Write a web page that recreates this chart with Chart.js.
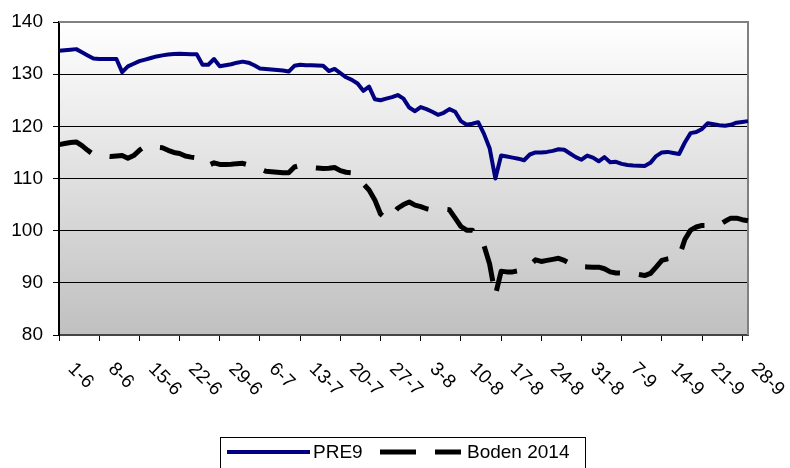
<!DOCTYPE html>
<html>
<head>
<meta charset="utf-8">
<script src="https://cdn.jsdelivr.net/npm/chart.js@4.4.1/dist/chart.umd.min.js"></script>
<style>
  html, body { margin: 0; padding: 0; background: #fff; }
</style>
</head>
<body>
<canvas id="chart" width="790" height="468"></canvas>
<script>
// daily categories, 1 June .. 29 September
const startDay = new Date(2014, 5, 1);
const dayCount = 121;
const labelEvery = 7;
const days = [];
for (let i = 0; i < dayCount; i++) {
  const d = new Date(startDay);
  d.setDate(startDay.getDate() + i);
  days.push(d.getDate() + '-' + (d.getMonth() + 1));
}

const yTicks = [80, 90, 100, 110, 120, 130, 140];

const pre9 = [
  134.5, 134.6, 134.7, 134.8, 134.2, 133.6, 133.0, 132.9, 132.9, 132.9,
  132.9, 130.4, 131.5, 132.0, 132.5, 132.8, 133.1, 133.4, 133.6, 133.75,
  133.85, 133.9, 133.85, 133.8, 133.8, 131.8, 131.8, 132.9, 131.5, 131.7,
  131.9, 132.2, 132.4, 132.2, 131.7, 131.1, 131.0, 130.9, 130.8, 130.7,
  130.5, 131.6, 131.8, 131.7, 131.7, 131.65, 131.6, 130.6, 131.0, 130.2,
  129.4, 128.9, 128.2, 126.8, 127.6, 125.2, 125.0, 125.3, 125.6, 126.0,
  125.3, 123.6, 122.9, 123.7, 123.3, 122.8, 122.2, 122.6, 123.3, 122.8,
  121.0, 120.3, 120.5, 120.8, 118.6, 115.8, 110.0, 114.4, 114.2, 114.0,
  113.8, 113.5, 114.6, 115.0, 115.0, 115.1, 115.3, 115.6, 115.5, 114.8,
  114.1, 113.6, 114.4, 114.0, 113.3, 114.1, 113.1, 113.2, 112.8, 112.6,
  112.5, 112.45, 112.4, 113.0, 114.3, 115.0, 115.1, 114.9, 114.7, 116.9,
  118.7, 118.9, 119.5, 120.6, 120.4, 120.2, 120.1, 120.3, 120.7, 120.85,
  121.0
];

const boden2014 = [
  116.5, 116.7, 116.9, 117.0, 116.3, 115.4, 114.6, 114.4, 114.3, 114.2,
  114.3, 114.4, 113.9, 114.4, 115.4, 116.2, 116.1, 116.0, 115.9, 115.4,
  115.0, 114.8, 114.3, 114.1, 113.95, 113.4, 112.5, 113.0, 112.7, 112.7,
  112.75, 112.85, 112.9, 112.6, 112.2, 111.8, 111.4, 111.3, 111.2, 111.1,
  111.1, 112.2, 112.5, 112.3, 112.1, 112.0, 111.9, 111.95, 112.1, 111.5,
  111.2, 111.1, 110.5, 109.0, 107.8, 105.9, 103.2, 102.2, 103.0, 104.3,
  105.0, 105.5, 104.9, 104.6, 104.2, 104.0, 104.0, 104.1, 104.0, 102.4,
  100.8, 100.1, 100.1, 98.9, 97.2, 93.6, 87.6, 92.2, 92.1, 92.1,
  92.3, 92.6, 93.4, 94.4, 94.1, 94.3, 94.5, 94.7, 94.3, 93.7,
  93.2, 93.1, 93.05, 93.0, 93.0, 92.7, 92.1, 91.9, 91.85, 91.8,
  91.8, 91.6, 91.4, 91.8, 93.0, 94.3, 94.6, 94.8, 95.0, 98.3,
  100.1, 100.7, 101.0, 101.0, 101.0, 101.1, 101.8, 102.4, 102.4, 102.1,
  101.9
];

const FONT = '"Liberation Sans", Arial, sans-serif';
const bodenDash = [36, 19];

// grey gradient behind the plot
const plotBackground = {
  id: 'plotBackground',
  beforeDraw(chart) {
    const { ctx, chartArea: a } = chart;
    const g = ctx.createLinearGradient(0, a.top, 0, a.bottom);
    g.addColorStop(0, '#ffffff');
    g.addColorStop(1, '#c0c0c0');
    ctx.save();
    ctx.fillStyle = g;
    ctx.fillRect(a.left, a.top, a.right - a.left, a.bottom - a.top);
    ctx.restore();
  }
};

// grey frame on top and right side
const plotFrame = {
  id: 'plotFrame',
  beforeDatasetsDraw(chart) {
    const { ctx, chartArea: a } = chart;
    ctx.save();
    ctx.strokeStyle = '#808080';
    ctx.lineWidth = 2;
    ctx.beginPath();
    ctx.moveTo(a.left, a.top);
    ctx.lineTo(a.right, a.top);
    ctx.lineTo(a.right, a.bottom);
    ctx.stroke();
    ctx.restore();
  }
};

// slanted date labels under the x axis
const dateLabels = {
  id: 'dateLabels',
  afterDraw(chart) {
    const { ctx } = chart;
    const xs = chart.scales.x;
    ctx.save();
    ctx.font = '19px ' + FONT;
    ctx.fillStyle = '#000';
    ctx.textAlign = 'left';
    ctx.textBaseline = 'middle';
    for (let i = 0; i < days.length; i += labelEvery) {
      const x = xs.getPixelForValue(i);
      ctx.save();
      ctx.translate(x + 12, xs.top + 31);
      ctx.rotate(Math.PI / 4);
      ctx.fillText(days[i], 0, 0);
      ctx.restore();
    }
    ctx.restore();
  }
};

// boxed legend at the bottom
const boxLegend = {
  id: 'boxLegend',
  afterDraw(chart) {
    const { ctx } = chart;
    const ds = chart.data.datasets;
    const y = 452;
    ctx.save();
    ctx.strokeStyle = '#000';
    ctx.lineWidth = 1;
    ctx.strokeRect(220.5, 437.5, 365, 40);

    ctx.font = '19px ' + FONT;
    ctx.fillStyle = '#000';
    ctx.textBaseline = 'middle';

    ctx.strokeStyle = ds[0].borderColor;
    ctx.lineWidth = ds[0].borderWidth;
    ctx.beginPath();
    ctx.moveTo(227, y);
    ctx.lineTo(310, y);
    ctx.stroke();
    ctx.fillText(ds[0].label, 313, y + 1);

    ctx.strokeStyle = ds[1].borderColor;
    ctx.lineWidth = ds[1].borderWidth;
    ctx.setLineDash(ds[1].borderDash);
    ctx.beginPath();
    ctx.moveTo(380, y);
    ctx.lineTo(461, y);
    ctx.stroke();
    ctx.setLineDash([]);
    ctx.fillText(ds[1].label, 467, y + 1);
    ctx.restore();
  }
};

new Chart(document.getElementById('chart'), {
  type: 'line',
  data: {
    labels: days,
    datasets: [
      {
        label: 'PRE9',
        data: pre9,
        borderColor: '#000080',
        borderWidth: 4,
        borderJoinStyle: 'round',
        pointRadius: 0,
        tension: 0
      },
      {
        label: 'Boden 2014',
        data: boden2014,
        borderColor: '#000000',
        borderWidth: 5,
        borderDash: bodenDash,
        borderCapStyle: 'butt',
        borderJoinStyle: 'round',
        pointRadius: 0,
        tension: 0
      }
    ]
  },
  options: {
    responsive: false,
    animation: false,
    layout: { padding: { left: 0, right: 42, top: 22, bottom: 0 } },
    plugins: {
      legend: { display: false },
      tooltip: { enabled: false }
    },
    scales: {
      x: {
        type: 'category',
        offset: false,
        afterFit: (s) => { s.height = 133; },
        grid: {
          drawOnChartArea: false,
          drawTicks: true,
          tickLength: 6,
          color: (c) => (c.index % labelEvery === 0 ? '#000' : 'rgba(0,0,0,0)'),
          lineWidth: 1
        },
        border: { display: true, color: '#444', width: 2 },
        ticks: {
          autoSkip: false,
          maxRotation: 0,
          callback: () => ''
        }
      },
      y: {
        min: yTicks[0],
        max: yTicks[yTicks.length - 1],
        afterFit: (s) => { s.width = 59; },
        afterBuildTicks: (s) => { s.ticks = yTicks.map(v => ({ value: v })); },
        grid: {
          color: (c) => (c.tick && c.tick.value === 140 ? 'rgba(0,0,0,0)' : '#000'),
          tickColor: '#000',
          lineWidth: 1,
          tickLength: 6
        },
        border: { display: true, color: '#000', width: 2 },
        ticks: {
          color: '#000',
          padding: 10,
          font: { family: FONT, size: 19 }
        }
      }
    }
  },
  plugins: [plotBackground, plotFrame, dateLabels, boxLegend]
});
</script>
</body>
</html>
